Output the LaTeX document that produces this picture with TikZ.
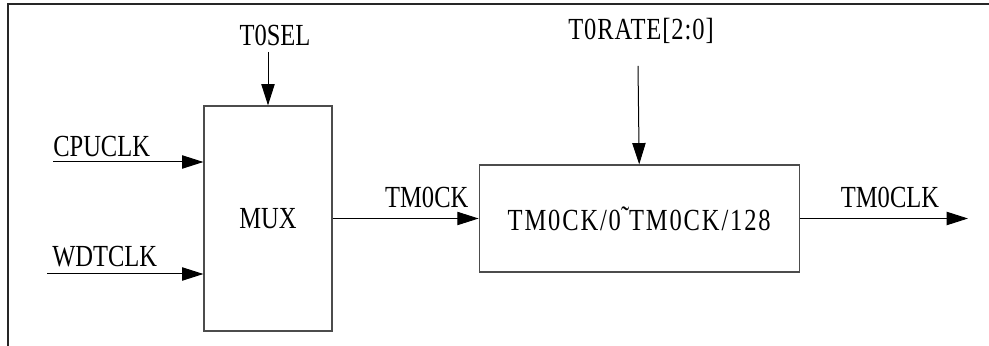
\documentclass[tikz,border=0pt]{standalone}
\usepackage{fontspec}
\setmainfont[FakeStretch=0.8]{Liberation Serif}
\usetikzlibrary{arrows.meta,positioning}

\begin{document}
\begin{tikzpicture}[x=0.75pt,y=0.75pt]
\tikzset{
     block/.style={draw=black!70, line width=0.9pt, inner sep=0pt, font=\fontsize{23}{26}\selectfont},
     signal/.style={draw, line width=0.75pt, -{Triangle[length=16pt,width=10pt]}},
     signame/.style={inner sep=0pt, font=\fontsize{23}{26}\selectfont}}

\useasboundingbox (0,0) rectangle (989,346);

% The frame
\draw[line width=1.5pt, black!85] (8,0) -- (8,342) -- (989,342);

% The blocks
\node (mux) [block, minimum width=96pt, minimum height=168.75pt] at (268,127.5) {MUX};
\node (div) [block, minimum width=240pt, minimum height=80.25pt, right=109.5pt of mux]
     {\addfontfeature{LetterSpace=6}TM0CK/0\raisebox{2pt}{˜}TM0CK/128};

% Free ends of the signals
\coordinate (cpu)  at (53,184);
\coordinate (wdt)  at (47,72);
\coordinate (sel)  at (268,294);
\coordinate (rate) at (638,280);
\coordinate (out)  at (968,127.5);

% The signals
\draw[signal] (cpu) -- (cpu -| mux.west);
\draw[signal] (wdt) -- (wdt -| mux.west);
\draw[signal] (sel) -- (mux.north);
\draw[signal] (rate) -- (div.north);
\draw[signal] (mux) -- (div);
\draw[signal] (div) -- (out);

% The labels
\node (cpulbl)  [signame, anchor=south west] at ([yshift=3.75pt]cpu) {CPUCLK};
\node (wdtlbl)  [signame, anchor=south west] at ([xshift=3.75pt,yshift=5.25pt]wdt) {WDTCLK};
\node (sellbl)  [signame] at (275,310.5) {T0SEL};
\node (ratelbl) [signame] at (641,315) {\addfontfeature{LetterSpace=3}T0RATE[2:0]};
\node (cklbl)   [signame, anchor=south east] at ([xshift=-7.5pt,yshift=7.5pt]div.west) {TM0CK};
\node (clklbl)  [signame, anchor=south] at (890,138) {TM0CLK};
\end{tikzpicture}
\end{document}
